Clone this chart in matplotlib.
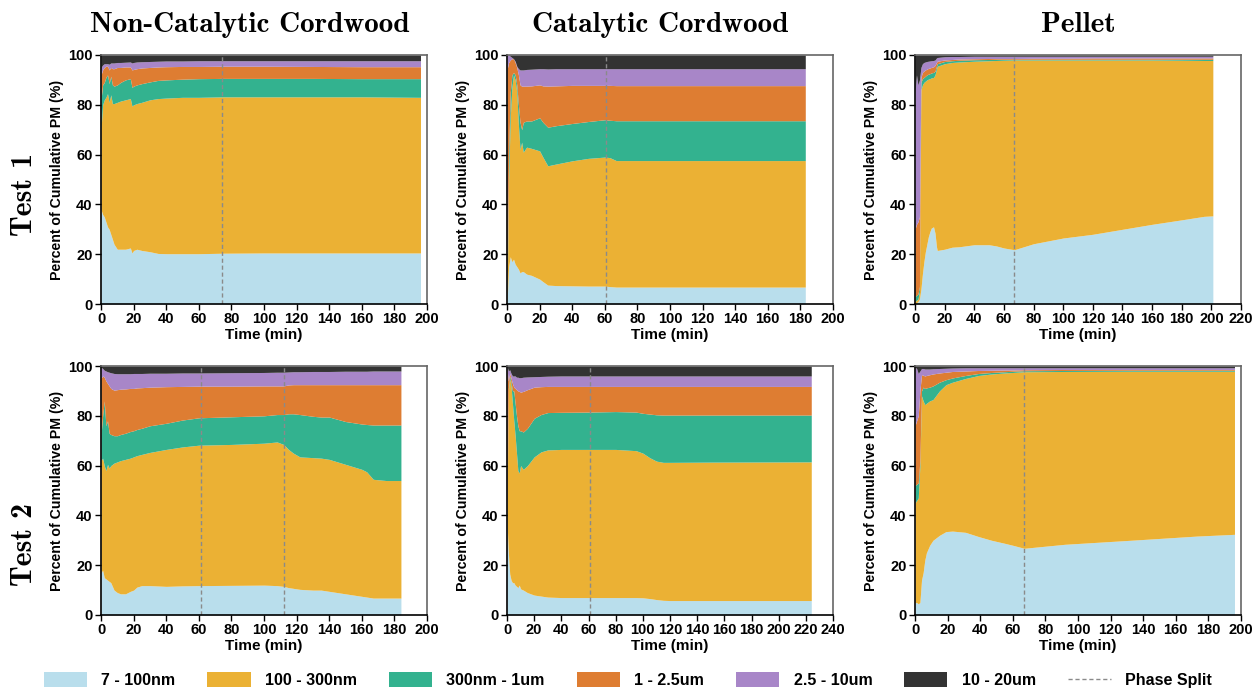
import numpy as np
import matplotlib
matplotlib.use("Agg")
import matplotlib.pyplot as plt
from matplotlib.patches import Patch
from matplotlib.lines import Line2D

plt.rcParams["font.family"] = ["Liberation Sans", "DejaVu Sans"]
plt.rcParams["font.weight"] = "bold"
plt.rcParams["axes.labelweight"] = "bold"

# size bins (bottom -> top) and colours
bins = ["7 - 100nm", "100 - 300nm", "300nm - 1um", "1 - 2.5um", "2.5 - 10um", "10 - 20um"]
colors = ["#b9deec", "#ebb134", "#33b28f", "#de7d32", "#a886c8", "#333333"]

# ── Non-catalytic cordwood, test 1 (cumulative upper edge of each bin, %) ──
t_nc1 = [0, 1, 2, 3, 4, 5, 6, 7, 8, 10, 12, 15, 18, 19, 20, 22, 25, 30, 35, 40, 50, 60, 75, 100, 130, 160, 196]
nc1_b1 = [38, 36, 35, 33, 31, 30, 28, 26, 24, 22, 22, 22, 22.5, 20.5, 21.5, 22, 21.5, 21, 20.3, 20.2, 20.2, 20.2, 20.4, 20.5, 20.5, 20.5, 20.5]
nc1_b2 = [70, 80, 82, 83, 84.5, 81, 84, 80.5, 80.5, 81, 81.5, 82, 82.5, 79.5, 80, 80.5, 81, 82, 82.5, 82.7, 83, 83, 83.2, 83.2, 83.2, 83.2, 83]
nc1_b3 = [82, 88, 89, 91, 92, 88.5, 91.5, 88, 87.5, 88, 89, 90, 90.5, 87, 87.5, 88, 88.5, 89.2, 89.8, 90, 90.3, 90.5, 90.6, 90.6, 90.6, 90.5, 90.5]
nc1_b4 = [92, 94, 95, 95.5, 95.5, 94, 95, 94.5, 94.5, 95, 95, 95.2, 95.2, 94, 94.2, 94.5, 94.8, 95, 95.2, 95.3, 95.4, 95.4, 95.5, 95.5, 95.4, 95.3, 95.3]
nc1_b5 = [95, 96, 96.5, 96.5, 96.5, 96.3, 96.8, 96.8, 96.8, 97, 97, 97.1, 97.2, 96.8, 97, 97.2, 97.3, 97.4, 97.5, 97.6, 97.6, 97.7, 97.7, 97.7, 97.7, 97.7, 97.7]

# ── Catalytic cordwood, test 1 ──
t_c1 = [0, 1, 2, 3, 4, 5, 6, 7, 8, 9, 10, 12, 15, 20, 22, 25, 30, 40, 50, 60, 63, 67, 100, 140, 183]
c1_b1 = [0, 15, 19, 17, 18, 16, 15, 14, 12.5, 13, 13, 12, 11.5, 10, 9, 7.6, 7.4, 7.3, 7.2, 7.2, 7.0, 6.8, 6.8, 6.8, 6.8]
c1_b2 = [0, 50, 75, 87, 92, 90, 85, 72, 62, 65, 61, 63, 62.5, 61.5, 59, 55.5, 56.2, 57.5, 58.5, 59, 58.8, 57.6, 57.6, 57.6, 57.6]
c1_b3 = [0, 60, 85, 92, 93, 92, 88, 80, 73, 70, 73, 73.5, 73.5, 74.8, 73, 71, 71.6, 72.5, 73.3, 74, 73.8, 73.6, 73.6, 73.6, 73.6]
c1_b4 = [94, 97, 98, 98.5, 98.5, 97, 95, 92, 88, 87.5, 87.5, 87.5, 87.6, 88, 87.6, 87.5, 87.6, 87.8, 87.8, 87.8, 87.8, 87.7, 87.7, 87.7, 87.7]
c1_b5 = [100, 100, 99.5, 99, 98.5, 97.5, 95.5, 94.5, 94, 94, 94, 94.2, 94.3, 94.5, 94.5, 94.4, 94.5, 94.5, 94.5, 94.5, 94.5, 94.5, 94.5, 94.5, 94.5]

# ── Pellet, test 1 ──
t_p1 = [0, 1, 2, 3, 4, 5, 6, 7, 8, 9, 10, 11, 12.5, 13.5, 14.5, 15, 20, 25, 30, 40, 50, 55, 60, 67, 80, 100, 120, 140, 160, 180, 195, 201]
p1_b1 = [0, 0.5, 1, 2, 6, 12, 17, 21, 24, 27, 29, 30.5, 31, 28.5, 23, 21.5, 22, 22.8, 23, 23.8, 23.8, 23.3, 22.5, 21.8, 24.2, 26.5, 28, 30, 32, 33.8, 35.2, 35.4]
p1_b2 = [1, 1.5, 2, 5, 86, 88, 89, 89.5, 90, 90.3, 90.5, 90.8, 91, 92, 94.5, 95.5, 96.5, 97, 97.2, 97.5, 97.7, 97.8, 97.9, 98, 98, 98, 98, 98, 98, 97.9, 97.8, 97.8]
p1_b3 = [3, 3.5, 4, 7, 89, 90.5, 91, 91.5, 92, 92.3, 92.5, 92.8, 93, 93.5, 95.5, 96.5, 97.4, 97.7, 97.9, 98.1, 98.2, 98.3, 98.3, 98.3, 98.3, 98.3, 98.3, 98.3, 98.3, 98.3, 98.3, 98.3]
p1_b4 = [30, 32, 33, 35, 91, 93, 93.5, 94, 94.3, 94.6, 94.8, 95, 95.3, 95.8, 97, 97.5, 98, 98.2, 98.4, 98.5, 98.6, 98.6, 98.6, 98.6, 98.7, 98.7, 98.8, 98.8, 98.8, 98.8, 98.8, 98.8]
p1_b5 = [85, 92, 88, 90, 95, 96.5, 97, 97.2, 97.4, 97.5, 97.6, 97.7, 97.8, 98, 98.8, 99, 99.3, 99.4, 99.4, 99.5, 99.5, 99.5, 99.5, 99.5, 99.5, 99.5, 99.5, 99.5, 99.5, 99.5, 99.5, 99.5]

# ── Non-catalytic cordwood, test 2 ──
t_nc2 = [0, 1, 2, 3, 4, 5, 6, 8, 10, 12, 15, 18, 20, 22, 25, 30, 40, 50, 60, 80, 100, 108, 112, 115, 118, 122, 130, 135, 140, 150, 160, 163, 167, 175, 184]
nc2_b1 = [17, 18, 15, 14.5, 14, 13.5, 13, 10, 9, 8.5, 8.5, 9.5, 10, 11.2, 11.8, 11.8, 11.5, 11.7, 11.8, 11.9, 12, 11.8, 11.5, 11, 10.7, 10.3, 10, 10, 9.5, 8.5, 7.5, 7.2, 6.8, 6.8, 6.8]
nc2_b2 = [62, 63, 60, 58, 60.5, 59, 60, 61, 61.5, 62, 62.5, 63, 63.5, 64, 64.5, 65.3, 66.5, 67.5, 68.2, 68.5, 69, 69.5, 68.5, 66.5, 65, 63.5, 63.2, 63, 62.5, 60.5, 58.5, 57.5, 54.5, 54, 54]
nc2_b3 = [72, 80, 86, 76, 78, 73, 72.5, 72, 72, 72.5, 73, 73.7, 74, 74.5, 75, 76, 77, 78.3, 79.2, 79.6, 80, 80.5, 80.5, 80.8, 80.8, 80.5, 79.8, 79.5, 79.5, 77.7, 76.7, 76.5, 76.3, 76.3, 76.3]
nc2_b4 = [95, 96, 95.5, 94, 93, 92, 91, 90.3, 90.5, 90.7, 90.8, 91, 91, 91.2, 91.3, 91.5, 91.7, 91.8, 91.9, 91.9, 92, 92, 92, 92.4, 92.5, 92.5, 92.5, 92.5, 92.5, 92.5, 92.5, 92.5, 92.5, 92.5, 92.5]
nc2_b5 = [99.5, 99, 98.3, 98, 97.7, 97.5, 97.3, 97, 96.9, 96.9, 96.9, 96.9, 97, 97, 97, 97.1, 97.1, 97.2, 97.2, 97.3, 97.4, 97.5, 97.5, 97.6, 97.7, 97.7, 97.8, 97.8, 97.8, 97.9, 97.9, 97.9, 98, 98, 98]

# ── Catalytic cordwood, test 2 ──
t_c2 = [0, 1, 2, 3, 4, 5, 6, 7, 8, 9, 10, 12, 15, 20, 25, 30, 40, 60, 80, 95, 100, 105, 110, 115, 120, 150, 224]
c2_b1 = [38, 25, 16.5, 14, 13, 13, 12, 11.5, 11, 12, 10.5, 10, 9, 8, 7.6, 7.2, 7, 7, 7, 7, 6.9, 6.6, 6.2, 5.9, 5.8, 5.8, 5.8]
c2_b2 = [40, 90, 95, 92, 85, 78, 72, 65, 58, 57, 60, 58.5, 60, 63.5, 65.5, 66.3, 66.5, 66.5, 66.5, 66, 65, 63.2, 61.8, 61.3, 61.3, 61.4, 61.5]
c2_b3 = [40, 91, 96, 93.5, 90, 90, 85, 80, 76, 74, 74, 73.5, 75, 79, 80.5, 81.3, 81.4, 81.5, 81.7, 81.5, 81, 80.7, 80.4, 80.3, 80.3, 80.3, 80.3]
c2_b4 = [99, 94, 97, 95, 93, 91.5, 91, 90.5, 90, 89.8, 89.5, 89.8, 90.5, 91.5, 91.7, 91.8, 91.8, 91.8, 91.8, 91.8, 91.8, 91.8, 91.8, 91.8, 91.8, 91.8, 91.8]
c2_b5 = [100, 98, 98.5, 97, 96, 96, 96, 95.5, 95.5, 95.3, 95.3, 95.5, 95.6, 95.7, 95.8, 95.9, 96, 96, 96, 96, 96, 96, 96, 96, 96, 96, 96]

# ── Pellet, test 2 ──
t_p2 = [0, 1, 2, 3, 4, 5, 6, 7, 9, 11, 15, 19, 23, 31, 39, 47, 55, 60, 67, 92, 132, 173, 196]
p2_b1 = [5, 5, 4.5, 5, 14, 17, 22, 25, 28, 30, 32, 33.5, 33.7, 33.2, 31.5, 30, 28.8, 28, 26.8, 28.4, 30, 31.7, 32.4]
p2_b2 = [45, 46, 47, 60, 88, 86, 84.5, 85, 86, 86.5, 90, 92.5, 93.5, 95, 96.2, 96.8, 97.2, 97.4, 97.7, 97.8, 97.9, 97.9, 97.9]
p2_b3 = [52, 52.5, 53, 62, 90, 91.5, 91, 91.2, 91.5, 92, 93.5, 94.5, 95.2, 96.2, 97, 97.4, 97.7, 97.9, 98.1, 98.2, 98.3, 98.3, 98.3]
p2_b4 = [76, 78, 80, 90, 96.5, 96.3, 96, 96.2, 96.5, 96.8, 97.2, 97.5, 97.8, 98, 98.2, 98.3, 98.4, 98.4, 98.5, 98.6, 98.6, 98.6, 98.6]
p2_b5 = [99.5, 99, 97, 98, 99, 99, 98.8, 98.8, 98.8, 98.9, 99, 99.1, 99.2, 99.3, 99.3, 99.3, 99.3, 99.3, 99.3, 99.3, 99.3, 99.3, 99.3]

# phase split times (min) and x-axis extent per panel
splits = [[74], [61], [67], [61.5, 112], [61], [67]]
xmax = [200, 200, 220, 200, 240, 200]

panels = [
    (t_nc1, [nc1_b1, nc1_b2, nc1_b3, nc1_b4, nc1_b5]),
    (t_c1, [c1_b1, c1_b2, c1_b3, c1_b4, c1_b5]),
    (t_p1, [p1_b1, p1_b2, p1_b3, p1_b4, p1_b5]),
    (t_nc2, [nc2_b1, nc2_b2, nc2_b3, nc2_b4, nc2_b5]),
    (t_c2, [c2_b1, c2_b2, c2_b3, c2_b4, c2_b5]),
    (t_p2, [p2_b1, p2_b2, p2_b3, p2_b4, p2_b5]),
]

col_titles = ["Non-Catalytic Cordwood", "Catalytic Cordwood", "Pellet"]
row_titles = ["Test 1", "Test 2"]

W, H = 1256, 694
fig = plt.figure(figsize=(W / 100, H / 100), dpi=100)

lefts = [101, 507, 915]
tops = [55, 366]
aw, ah = 326, 249

for k, (t, edges) in enumerate(panels):
    r, c = divmod(k, 3)
    ax = fig.add_axes([lefts[c] / W, 1 - (tops[r] + ah) / H, aw / W, ah / H])
    t = np.asarray(t, dtype=float)
    lower = np.zeros_like(t)
    for i, col in enumerate(colors):
        upper = np.asarray(edges[i], dtype=float) if i < 5 else np.full_like(t, 100.0)
        ax.fill_between(t, lower, upper, color=col, linewidth=0)
        lower = upper
    for s in splits[k]:
        ax.axvline(s, color="#8a8a8a", lw=1.0, ls=(0, (3, 2)))
    ax.set_xlim(0, xmax[k])
    ax.set_ylim(0, 100)
    ax.set_xticks(np.arange(0, xmax[k] + 1, 20))
    ax.set_yticks(np.arange(0, 101, 20))
    ax.tick_params(labelsize=10.5, width=1.0, length=4, pad=2)
    for lab in ax.get_xticklabels() + ax.get_yticklabels():
        lab.set_fontweight("bold")
    for side in ["left", "bottom"]:
        ax.spines[side].set_color("black")
        ax.spines[side].set_linewidth(1.2)
    for side in ["top", "right"]:
        ax.spines[side].set_color("#666666")
        ax.spines[side].set_linewidth(1.2)
    ax.set_xlabel("Time (min)", fontsize=11, labelpad=1)
    ax.set_ylabel("Percent of Cumulative PM (%)", fontsize=10.2, labelpad=3)

title_x = [250, 660, 1078]
for c, name in enumerate(col_titles):
    fig.text(title_x[c] / W, 1 - 25 / H, name, ha="center", va="center",
             family="cmb10", fontsize=21)
for r, (name, yc) in enumerate(zip(row_titles, [194, 545])):
    fig.text(24 / W, 1 - yc / H, name, ha="center", va="center", rotation=90,
             family="cmb10", fontsize=21.5)

handles = [Patch(facecolor=col, edgecolor="none") for col in colors]
handles.append(Line2D([], [], color="#8a8a8a", lw=1.0, ls=(0, (3, 2))))
labels = bins + ["Phase Split"]
fig.legend(handles, labels, loc="lower center", bbox_to_anchor=(0.5, -0.012), ncol=7,
           frameon=False, handlelength=2.7, handleheight=1.0,
           handletextpad=0.9, columnspacing=2.0, prop={"weight": "bold", "size": 11.5})

fig.savefig("out.png", dpi=100)
